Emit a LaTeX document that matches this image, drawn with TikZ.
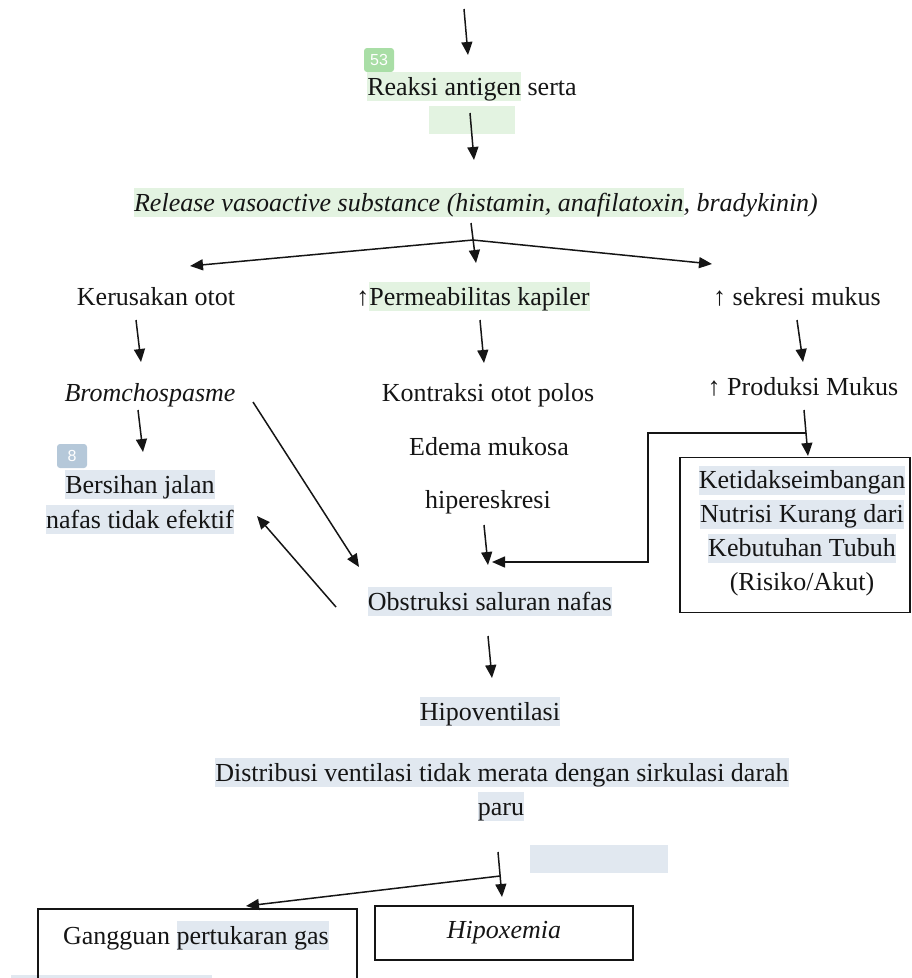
\documentclass[tikz,border=0pt]{standalone}
\usepackage{fontspec}
\setmainfont{Liberation Serif}
\newfontfamily\badgefont{Liberation Sans}
\usetikzlibrary{arrows.meta}
\definecolor{ink}{HTML}{151515}
\definecolor{hlgreen}{HTML}{E3F3E1}
\definecolor{hlgrey}{HTML}{E1E8F0}
\definecolor{badgegreen}{HTML}{A9DEA6}
\definecolor{badgegrey}{HTML}{B5C8D9}
\newcommand{\hlg}[1]{\begingroup\setlength{\fboxsep}{0pt}\colorbox{hlgreen}{\rule[-6pt]{0pt}{29pt}#1}\endgroup}
\newcommand{\hlb}[1]{\begingroup\setlength{\fboxsep}{0pt}\colorbox{hlgrey}{\rule[-6pt]{0pt}{29pt}#1}\endgroup}
\begin{document}
\begin{tikzpicture}[x=1pt,y=-1pt,
  txt/.style={font=\fontsize{26}{34}\selectfont, inner sep=0pt, text=ink, anchor=base},
  arr/.style={-{Triangle[length=13pt,width=11pt]}, line width=1.5pt, draw=ink},
  boxst/.style={draw=ink, line width=1.9pt, inner sep=0pt},
  badge/.style={fill=#1, rounded corners=3pt, minimum width=30pt, minimum height=24pt, inner sep=0pt, text=white, font=\badgefont\fontsize{16}{16}\selectfont}
]
\useasboundingbox (0,0) rectangle (912,978);

% empty highlight rectangles
\fill[hlgreen] (429,106) rectangle (515,134);
\fill[hlgrey] (530,845) rectangle (668,873);
\fill[hlgrey] (11,975) rectangle (212,980);

% badges
\node[badge=badgegreen] (b53) at (379,60) {53};
\node[badge=badgegrey] (b8) at (72,456) {8};

% texts
\node[txt] (reaksi) at (472,95) {\hlg{Reaksi antigen} serta};
\node[txt] (release) at (476,211) {\itshape\hlg{Release vasoactive substance (histamin, anafilatoxin}, bradykinin)};
\node[txt] (kerusakan) at (156,305) {Kerusakan otot};
\node[txt] (perm) at (473,305) {↑\hlg{Permeabilitas kapiler}};
\node[txt] (sekresi) at (797,305) {↑ sekresi mukus};
\node[txt] (bromcho) at (150,401) {\itshape Bromchospasme};
\node[txt] (kontraksi) at (488,401) {Kontraksi otot polos};
\node[txt] (produksi) at (803,395) {↑ Produksi Mukus};
\node[txt] (edema) at (489,455) {Edema mukosa};
\node[txt] (hiper) at (488,508) {hipereskresi};
\node[txt] (bersih1) at (140,493) {\hlb{Bersihan jalan}};
\node[txt] (bersih2) at (140,528) {\hlb{nafas tidak efektif}};
\node[txt] (obstruksi) at (490,610) {\hlb{Obstruksi saluran nafas}};
\node[txt] (hipovent) at (490,720) {\hlb{Hipoventilasi}};
\node[txt] (distrib) at (502,781) {\hlb{Distribusi ventilasi tidak merata dengan sirkulasi darah}};
\node[txt] (paru) at (501,815) {\hlb{paru}};

% boxes
\node[boxst, minimum width=230pt, minimum height=155pt] (kbox) at (795,535) {};
\node[txt, anchor=center, align=center] (ktext) at (802,531) {\hlb{Ketidakseimbangan}\\\hlb{Nutrisi Kurang dari}\\\hlb{Kebutuhan Tubuh}\\(Risiko/Akut)};
\node[boxst, minimum width=319pt, minimum height=90pt, anchor=north west] (gbox) at (37,908) {};
\node[txt] (gtext) at (196,944) {Gangguan \hlb{pertukaran gas}};
\node[boxst, minimum width=258pt, minimum height=54pt] (hbox) at (504,933) {};
\node[txt, anchor=center] (htext) at (504,933) {\itshape Hipoxemia};

% connector coordinates
\coordinate (t0) at (464,9);
\coordinate (t1) at (468,55);
\coordinate (r0) at (470,113);
\coordinate (r1) at (474,160);
\coordinate (f0) at (471,223);
\coordinate (fj) at (473,240);
\coordinate (f1) at (476,263);
\coordinate (fl) at (190,266);
\coordinate (fr) at (712,264);
\coordinate (k0) at (136,320);
\coordinate (k1) at (141,362);
\coordinate (p0) at (480,320);
\coordinate (p1) at (484,363);
\coordinate (s0) at (797,320);
\coordinate (s1) at (803,362);
\coordinate (bc0) at (138,410);
\coordinate (bc1) at (143,452);
\coordinate (pm0) at (804,410);
\coordinate (pm1) at (808,456);
\coordinate (e0) at (806,433);
\coordinate (e1) at (648,433);
\coordinate (e2) at (648,562);
\coordinate (e3) at (492,562);
\coordinate (d0) at (253,402);
\coordinate (d1) at (359,567);
\coordinate (o0) at (336,607);
\coordinate (o1) at (257,516);
\coordinate (h0) at (484,525);
\coordinate (h1) at (488,565);
\coordinate (ob0) at (488,636);
\coordinate (ob1) at (492,678);
\coordinate (g0) at (498,852);
\coordinate (gj) at (500,876);
\coordinate (g1) at (502,897);
\coordinate (g2) at (246,906);

% connectors
\draw[arr] (t0) -- (t1);
\draw[arr] (r0) -- (r1);
\draw[arr] (f0) -- (f1);
\draw[arr] (fj) -- (fl);
\draw[arr] (fj) -- (fr);
\draw[arr] (k0) -- (k1);
\draw[arr] (p0) -- (p1);
\draw[arr] (s0) -- (s1);
\draw[arr] (bc0) -- (bc1);
\draw[arr] (pm0) -- (pm1);
\draw[arr] (e0) -- (e1) -- (e2) -- (e3);
\draw[arr] (d0) -- (d1);
\draw[arr] (o0) -- (o1);
\draw[arr] (h0) -- (h1);
\draw[arr] (ob0) -- (ob1);
\draw[arr] (g0) -- (g1);
\draw[arr] (gj) -- (g2);
\end{tikzpicture}
\end{document}
